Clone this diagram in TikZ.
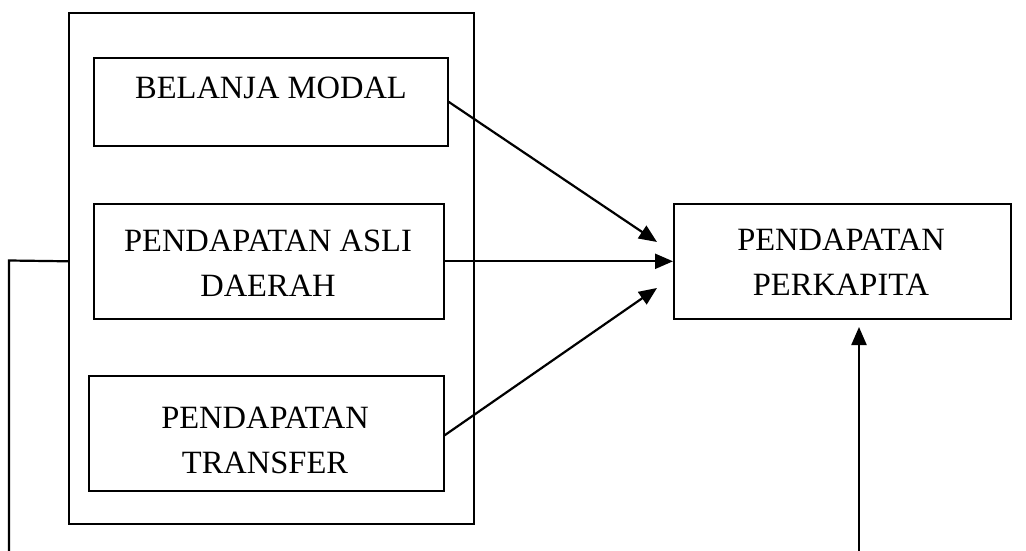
\documentclass[tikz,border=0pt]{standalone}
\usepackage{fontspec}
\setmainfont{Liberation Serif}
\usetikzlibrary{arrows.meta}
\begin{document}
\begin{tikzpicture}[x=1pt,y=-1pt,
  box/.style={draw,line width=1.6pt,inner sep=0pt,anchor=north west},
  lbl/.style={font=\fontsize{32.5}{45}\selectfont,align=center,inner sep=0pt},
  conn/.style={line width=2.2pt,line join=miter},
  arr/.style={conn,-{Triangle[length=18pt,width=15pt]}}]
\useasboundingbox (0,0) rectangle (1026,551);
\node[box,minimum width=405pt,minimum height=511pt] (outer) at (68,12) {};
\node[box,minimum width=354pt,minimum height=88pt] (bm) at (93,57) {};
\node[box,minimum width=350pt,minimum height=115pt] (pad) at (93,203) {};
\node[box,minimum width=355pt,minimum height=115pt] (tr) at (88,375) {};
\node[box,minimum width=337pt,minimum height=115pt] (pp) at (673,203) {};
\node[lbl] (tbm) at (271,88) {BELANJA MODAL};
\node[lbl] (tpad) at (268,263) {PENDAPATAN ASLI\\DAERAH};
\node[lbl] (ttr) at (265,440) {PENDAPATAN\\TRANSFER};
\node[lbl] (tpp) at (841,262) {PENDAPATAN\\PERKAPITA};
\coordinate (t1) at (657,242);
\coordinate (t3) at (657,288);
\coordinate (t4) at (859,327);
\coordinate (b4) at (859,552);
\coordinate (lc) at (9,260.5);
\coordinate (lb) at (9,552);
\draw[arr] (bm.east) -- (t1);
\draw[arr] (pad.east) -- (pp.west);
\draw[arr] ([yshift=-2pt]tr.east) -- (t3);
\draw[arr] (b4) -- (t4);
\draw[conn] (outer.west |- pad.east) -- (lc) -- (lb);
\end{tikzpicture}
\end{document}
